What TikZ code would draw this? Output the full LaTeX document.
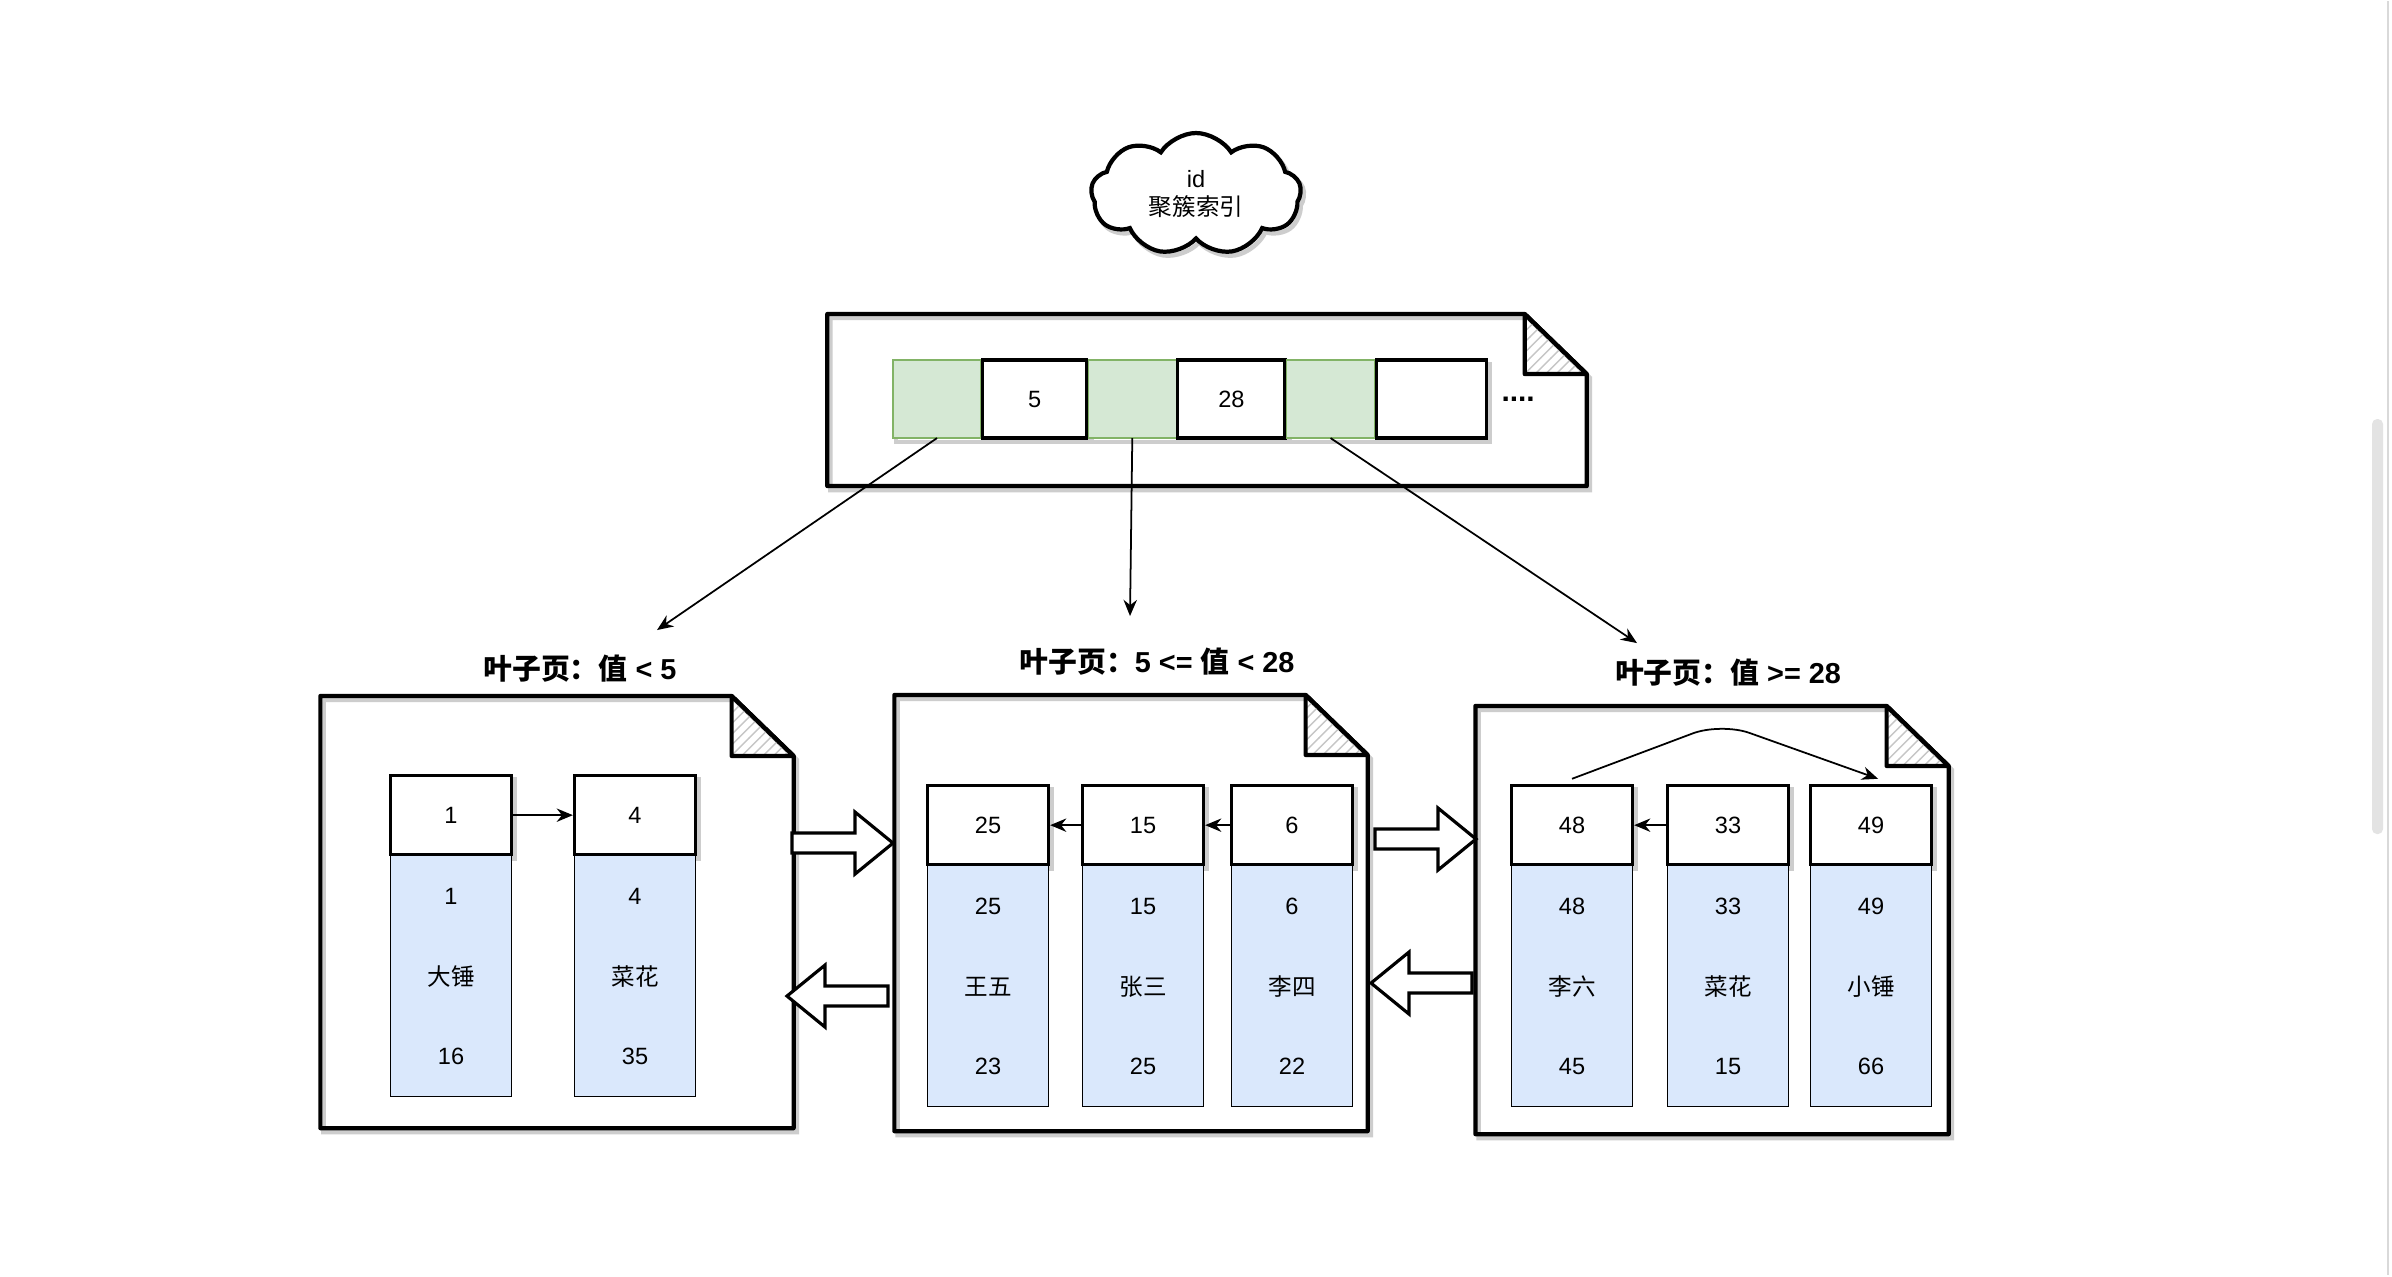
\documentclass[tikz,border=0pt]{standalone}
\usepackage{fontspec}
\setmainfont{Liberation Sans}
\newfontfamily\cjk{Noto Sans CJK SC}
\definecolor{keygreen}{RGB}{213,232,212}
\definecolor{keygreenline}{RGB}{130,179,102}
\definecolor{rowblue}{RGB}{218,232,252}
\definecolor{shadowgrey}{RGB}{205,205,205}
\usetikzlibrary{positioning, arrows.meta, shapes.symbols, patterns}

\begin{document}
\begin{tikzpicture}[
    x=0.01cm, y=-0.01cm,
    every node/.style={font=\fontsize{6.7}{7.8}\selectfont},
    softshadow/.style={preaction={draw=shadowgrey, line width=1.3pt,
                transform canvas={shift={(0.9pt,-1.1pt)}}}},
    pagebox/.style={draw=none, inner sep=0pt, outer sep=0pt},
    pageline/.style={draw=black, line width=1.2pt, line join=round, softshadow},
    keycell/.style={draw=black, line width=0.9pt, fill=white, softshadow,
                minimum width=1.21cm, minimum height=0.79cm, inner sep=0pt},
    rowcell/.style={fill=rowblue, minimum width=1.21cm, minimum height=0.8cm,
                inner sep=0pt, outer sep=0pt},
    rowline/.style={draw=black, line width=0.5pt},
    ptr/.style={draw=keygreenline, fill=keygreen, softshadow,
                minimum width=0.88cm, minimum height=0.78cm, inner sep=0pt, outer sep=0pt},
    title/.style={font=\fontsize{8.2}{9.8}\selectfont\bfseries},
    arr/.style={-{Stealth[length=4.6pt, width=3.8pt]}, line width=0.5pt},
    fatarrow/.pic={\draw[line width=0.9pt, fill=white]
        (0,-10) -- (63,-10) -- (63,-31) -- (101,0) -- (63,31) -- (63,10) -- (0,10) -- cycle;},
  ]
    \fill[white] (0,0) rectangle (2392,1274);

    %% cloud label
    \node[cloud, cloud puffs=9, cloud puff arc=115, aspect=1.7, draw, line width=1.2pt,
          fill=white, softshadow, minimum width=2.1cm, minimum height=1.22cm,
          align=center, inner sep=0pt]
      (idx) at (1196,193) {id\\{\cjk 聚簇索引}};

    %% pages: root + three leaves
    \node[pagebox, minimum width=7.59cm, minimum height=1.72cm] (root) at (1207,399) {};
    \node[pagebox, minimum width=4.73cm, minimum height=4.32cm] (pl) at (557,911) {};
    \node[pagebox, minimum width=4.73cm, minimum height=4.36cm] (pm) at (1131,912) {};
    \node[pagebox, minimum width=4.73cm, minimum height=4.28cm] (pr) at (1712,919) {};
    \foreach \p in {root,pl,pm,pr}{
      \draw[pageline] (\p.north west) -- ([xshift=-6.2mm]\p.north east)
        -- ([yshift=-6mm]\p.north east) -- (\p.south east) -- (\p.south west) -- cycle;
      \draw[line width=1.2pt, line join=round, pattern=north east lines, pattern color=gray!45]
        ([xshift=-6.2mm]\p.north east) -- ([xshift=-6.2mm,yshift=-6mm]\p.north east)
        -- ([yshift=-6mm]\p.north east) -- cycle;
    }

    %% root page entries
    \node[ptr] (g1) at (937,398) {};
    \node[keycell, minimum width=1.04cm, minimum height=0.78cm, right=0pt of g1] (s5) {5};
    \node[ptr, right=0pt of s5] (g2) {};
    \node[keycell, minimum width=1.07cm, minimum height=0.78cm, right=0pt of g2] (s28) {28};
    \node[ptr, right=0pt of s28] (g3) {};
    \node[keycell, minimum width=1.10cm, minimum height=0.78cm, right=0pt of g3] (sx) {};
    \node[font=\fontsize{8.5}{9}\selectfont\bfseries, inner sep=0pt, right=0.13cm of sx] (more) {....};

    %% leaf titles
    \node[title] (tl) at (580,668) {{\cjk 叶子页：值} < 5};
    \node[title] (tm) at (1157,661) {{\cjk 叶子页：}5 <= {\cjk 值} < 28};
    \node[title] (tr) at (1728,672) {{\cjk 叶子页：值} >= 28};

    \coordinate (lfl) at (657,629);
    \coordinate (lfm) at (1130,615);
    \coordinate (lfr) at (1637,642);
    \draw[arr] (g1.south) -- (lfl);
    \draw[arr] (g2.south) -- (lfm);
    \draw[arr] (g3.south) -- (lfr);

    %% records: key cell on top, row data below
    \foreach \n/\x/\y/\k/\nm/\ag in {1/451/773/1/大锤/16, 2/635/773/4/菜花/35,
        3/988/783/25/王五/23, 4/1143/783/15/张三/25, 5/1292/783/6/李四/22,
        6/1572/783/48/李六/45, 7/1728/783/33/菜花/15, 8/1871/783/49/小锤/66}{
      \node[keycell, anchor=north] (k\n) at (\x,\y) {\k};
      \node[rowcell, below=0pt of k\n] (a\n) {\k};
      \node[rowcell, below=0pt of a\n] (b\n) {{\cjk \nm}};
      \node[rowcell, below=0pt of b\n] (c\n) {\ag};
      \draw[rowline] (a\n.north west) -- (c\n.south west) -- (c\n.south east) -- (a\n.north east);
    }

    \draw[arr] (k1.east) -- (k2.west);
    \draw[arr] (k4.west) -- (k3.east);
    \draw[arr] (k5.west) -- (k4.east);
    \draw[arr] (k7.west) -- (k6.east);
    \draw[arr, rounded corners=0.3cm] ([yshift=1.5pt]k6.north) -- ++(149,-56)
      -- ([xshift=2pt,yshift=1.5pt]k8.north);

    %% links between leaf pages
    \pic at (792,842) {fatarrow};
    \pic[rotate=180] at (888,995) {fatarrow};
    \pic at (1375,838) {fatarrow};
    \pic[rotate=180] at (1472,982) {fatarrow};

    %% scrollbar
    \fill[black!11, rounded corners=0.05cm] (2372,418) rectangle (2383,833);
    \draw[black!15, line width=0.6pt] (2388,0) -- (2388,1274);
  \end{tikzpicture}
\end{document}
